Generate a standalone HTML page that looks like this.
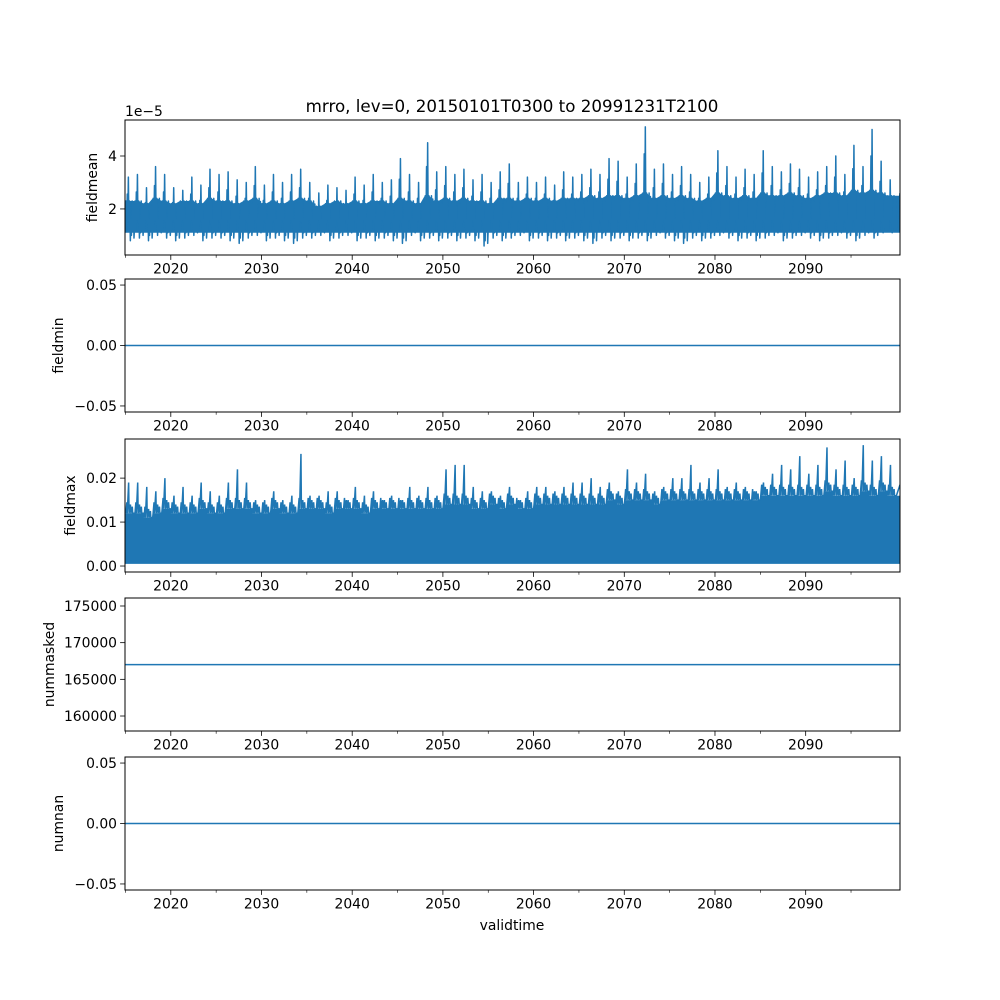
<!DOCTYPE html>
<html><head><meta charset="utf-8"><style>
html,body{margin:0;padding:0;background:#fff}
svg{display:block;font-family:"DejaVu Sans","Liberation Sans",sans-serif}
</style></head><body>
<svg id="fig" width="1000" height="1000" viewBox="0 0 1000 1000"></svg>
<script>
const years=[];for(let y=2015;y<=2099;y++)years.push(y);
const meanPeak=[3.2,3.3,2.8,3.6,3.3,2.8,2.7,3.2,2.9,3.5,3.3,3.4,3.1,3.0,3.6,2.9,3.3,3.0,3.3,3.5,3.0,2.6,2.9,2.8,2.7,3.2,2.9,3.3,3.0,3.1,3.9,3.3,3.0,4.5,3.4,3.6,3.3,3.5,3.1,3.3,3.0,3.4,3.7,3.0,3.2,3.0,3.2,2.9,3.4,3.2,3.3,3.5,3.3,3.9,3.8,3.2,3.7,5.1,3.5,3.7,3.3,3.6,3.3,3.0,3.2,4.2,3.6,3.2,3.5,3.3,4.2,3.6,3.4,3.7,3.5,3.2,3.4,3.6,4.0,3.3,4.4,3.6,5.0,3.8,3.1];
const meanTrough=[0.8,0.9,0.8,1.0,0.9,0.8,0.9,1.0,0.8,0.9,0.9,0.8,0.7,0.9,1.0,0.8,0.9,0.8,0.7,0.9,0.9,1.0,0.8,0.9,1.0,0.8,0.9,0.8,0.9,0.8,0.7,1.0,0.8,0.9,0.8,0.9,0.8,0.9,0.8,0.6,0.9,0.8,0.9,1.0,0.8,0.9,0.8,0.9,0.8,0.9,0.8,0.7,0.9,0.8,0.9,0.8,0.9,0.8,1.0,0.9,0.8,0.7,0.9,0.8,0.9,1.0,0.9,0.8,0.9,0.8,0.9,1.0,0.8,0.9,1.0,0.9,0.8,0.9,1.0,0.9,0.8,1.0,0.9,1.1,1.1];
const meanHigh=[2.3,2.3,2.2,2.4,2.3,2.2,2.3,2.3,2.2,2.4,2.3,2.3,2.2,2.3,2.4,2.2,2.3,2.2,2.3,2.4,2.3,2.1,2.2,2.3,2.2,2.3,2.2,2.3,2.3,2.2,2.4,2.3,2.2,2.5,2.3,2.4,2.3,2.4,2.3,2.3,2.2,2.4,2.4,2.3,2.4,2.3,2.4,2.3,2.4,2.4,2.4,2.5,2.4,2.5,2.5,2.4,2.5,2.6,2.4,2.5,2.4,2.5,2.4,2.3,2.4,2.6,2.5,2.4,2.5,2.4,2.6,2.5,2.5,2.6,2.5,2.4,2.5,2.6,2.6,2.5,2.7,2.6,2.7,2.6,2.5];
const maxPeak=[1.9,1.9,1.8,1.7,2.0,1.6,1.8,1.6,1.9,1.7,1.6,1.9,2.2,1.9,1.5,1.5,1.7,1.5,1.6,2.55,1.6,1.6,1.7,1.7,1.5,1.8,1.6,1.7,1.5,1.6,1.5,1.8,1.6,1.8,1.6,2.2,2.3,2.3,1.8,1.7,1.7,1.6,1.8,1.5,1.7,1.8,1.8,1.7,1.8,1.9,1.9,2.0,1.8,1.9,1.7,2.2,1.9,2.1,1.7,1.8,2.0,2.0,2.3,1.9,2.0,2.2,1.8,1.9,1.8,1.7,1.9,2.1,2.3,2.2,2.5,2.1,2.3,2.7,2.2,2.4,2.0,2.75,2.4,2.5,2.3];
const maxHigh=[1.2,1.2,1.1,1.2,1.3,1.2,1.2,1.2,1.3,1.2,1.2,1.3,1.3,1.3,1.2,1.2,1.3,1.2,1.2,1.3,1.3,1.3,1.2,1.3,1.3,1.3,1.2,1.3,1.3,1.3,1.3,1.3,1.3,1.3,1.3,1.4,1.4,1.4,1.3,1.3,1.4,1.3,1.4,1.3,1.3,1.4,1.4,1.4,1.4,1.4,1.4,1.4,1.4,1.5,1.4,1.5,1.5,1.5,1.4,1.5,1.5,1.5,1.5,1.5,1.5,1.5,1.5,1.5,1.5,1.5,1.6,1.6,1.6,1.6,1.6,1.6,1.6,1.7,1.6,1.6,1.6,1.7,1.6,1.7,1.6];
const minVal=[0.0,0.0];
const maskedVal=[167000,167000];
const nanVal=[0.0,0.0];
const xTicks=[2020,2030,2040,2050,2060,2070,2080,2090];
const xMinor=[2015,2025,2035,2045,2055,2065,2075,2085,2095];

const NS="http://www.w3.org/2000/svg";
const svg=document.getElementById('fig');
const C="#1f77b4";
const L=125,R=900;
const X0=2014.95,X1=2100.4;
function xs(v){return L+(v-X0)/(X1-X0)*(R-L);}
function mk(tag,attrs,parent){const e=document.createElementNS(NS,tag);for(const k in attrs)e.setAttribute(k,attrs[k]);(parent||svg).appendChild(e);return e;}
const FS=13.9;
const panels=[
 {name:'fieldmean',top:120,bot:255,ymin:0.26,ymax:5.36,ticks:[2,4],fmt:v=>String(v),lx:97},
 {name:'fieldmin',top:279,bot:412,ymin:-0.055,ymax:0.055,ticks:[-0.05,0,0.05],fmt:v=>v<0?'\u22120.05':v.toFixed(2),lx:63},
 {name:'fieldmax',top:439,bot:572,ymin:-0.136,ymax:2.89,ticks:[0,1,2],fmt:v=>(v/100).toFixed(2),lx:75},
 {name:'nummasked',top:598,bot:731,ymin:157956,ymax:176090,ticks:[160000,165000,170000,175000],fmt:v=>String(v),lx:54},
 {name:'numnan',top:757,bot:890,ymin:-0.055,ymax:0.055,ticks:[-0.05,0,0.05],fmt:v=>v<0?'\u22120.05':v.toFixed(2),lx:63}
];

panels.forEach((p,pi)=>{
 const g=mk('g',{});
 
 
 const ys=v=>p.bot-(v-p.ymin)/(p.ymax-p.ymin)*(p.bot-p.top);
 const clipId='clip'+pi;
 const cp=mk('clipPath',{id:clipId},g);mk('rect',{x:L,y:p.top,width:R-L,height:p.bot-p.top},cp);
 const dg=mk('g',{'clip-path':'url(#'+clipId+')'},g);
 
 
 if(p.name==='fieldmean'){
  let top='',bot='';
  years.forEach((y,i)=>{top+=xs(y)+','+ys(meanHigh[i])+' '+xs(y+0.5)+','+ys(meanHigh[i])+' ';});
  top+=xs(X1)+','+ys(meanHigh[meanHigh.length-1])+' ';
  bot=xs(X1)+','+ys(1.1)+' ';
  for(let i=years.length-1;i>=0;i--){bot+=xs(years[i]+0.5)+','+ys(1.1)+' '+xs(years[i])+','+ys(1.1)+' ';}
  const band=mk('polygon',{points:top+bot,fill:C},dg);
  
  
  let pts='';
  years.forEach((y,i)=>{
   const hi=meanHigh[i],pk=meanPeak[i],tr=meanTrough[i];
   const seq=[[0,1.3],[0.06,hi],[0.12,1.2],[0.2,pk*0.8],[0.26,1.6],[0.32,pk],[0.38,1.5],[0.46,hi],[0.54,tr],[0.6,1.6],[0.66,tr+0.2],[0.74,hi],[0.8,1.2],[0.88,hi*0.95],[0.94,tr+0.1],[1.0,1.3]];
   seq.forEach(s=>{pts+=xs(y+s[0]).toFixed(2)+','+ys(s[1]).toFixed(2)+' ';});
  });
  pts+=xs(X1).toFixed(2)+','+ys(2.6).toFixed(2);
  const ln=mk('polyline',{points:pts,fill:'none',stroke:C,'stroke-width':1.5,'stroke-linejoin':'round'},dg);
  
  
 } else if(p.name==='fieldmax'){
  let top='',bot='';
  years.forEach((y,i)=>{top+=xs(y)+','+ys(maxHigh[i])+' '+xs(y+1)+','+ys(maxHigh[i])+' ';});
  top+=xs(X1)+','+ys(maxHigh[maxHigh.length-1])+' ';
  bot=xs(X1)+','+ys(0.05)+' '+xs(X0)+','+ys(0.05);
  const band=mk('polygon',{points:top+bot,fill:C},dg);
  
  
  let pts='';
  years.forEach((y,i)=>{
   const hi=maxHigh[i],pk=maxPeak[i];
   const seq=[[0.05,hi],[0.15,hi+0.25],[0.2,hi],[0.35,pk],[0.4,hi],[0.55,hi+0.2],[0.6,hi],[0.75,hi+0.15],[0.8,hi],[0.95,hi],[1.0,hi]];
   seq.forEach(s=>{pts+=xs(y+s[0]).toFixed(2)+','+ys(s[1]).toFixed(2)+' ';});
  });
  pts+=xs(X1).toFixed(2)+','+ys(1.85).toFixed(2);
  const ln=mk('polyline',{points:pts,fill:'none',stroke:C,'stroke-width':1.5},dg);
  
  
 } else {
  const vals=p.name==='fieldmin'?minVal:(p.name==='nummasked'?maskedVal:nanVal);
  const ln=mk('line',{x1:xs(X0),x2:xs(X1),y1:ys(vals[0]),y2:ys(vals[1]),stroke:C,'stroke-width':1.5},dg);
  
  
 }
 const fr=mk('rect',{x:L,y:p.top,width:R-L,height:p.bot-p.top,fill:'none',stroke:'#000','stroke-width':1},g);
 
 
 p.ticks.forEach(t=>{
  const y=ys(t);
  mk('line',{x1:L-4.9,x2:L,y1:y,y2:y,stroke:'#000','stroke-width':0.8},g);
  const tx=mk('text',{x:L-8,y:y+5,'font-size':FS,'text-anchor':'end',fill:'#000'},g);
  tx.textContent=p.fmt(t);
  
  
 });
 xTicks.forEach(t=>{
  const x=xs(t);
  mk('line',{x1:x,x2:x,y1:p.bot,y2:p.bot+4.9,stroke:'#000','stroke-width':0.8},g);
  const tx=mk('text',{x:x,y:p.bot+18.5,'font-size':FS,'text-anchor':'middle',fill:'#000'},g);
  tx.textContent=String(t);
  
  
 });
 xMinor.forEach(t=>{const x=xs(t);mk('line',{x1:x,x2:x,y1:p.bot,y2:p.bot+2.8,stroke:'#000','stroke-width':0.6},g);});
 const lx=p.lx;
 const cy=(p.top+p.bot)/2;
 const yl=mk('text',{x:lx,y:cy,'font-size':FS,'text-anchor':'middle',transform:'rotate(-90 '+lx+' '+cy+')',fill:'#000'},g);
 yl.textContent=p.name;
 
 
});
const off=mk('text',{x:125,y:116,'font-size':FS,fill:'#000'});
off.textContent='1e\u22125';


const ti=mk('text',{x:512,y:112,'font-size':16.7,'text-anchor':'middle',fill:'#000'});
ti.textContent='mrro, lev=0, 20150101T0300 to 20991231T2100';


const xl=mk('text',{x:512,y:930,'font-size':FS,'text-anchor':'middle',fill:'#000'});
xl.textContent='validtime';


</script>
</body></html>
